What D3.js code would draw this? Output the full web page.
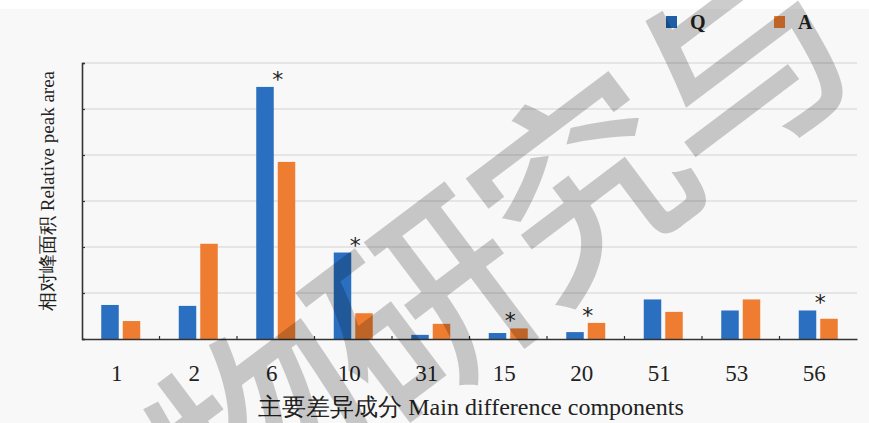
<!DOCTYPE html>
<html>
<head>
<meta charset="utf-8">
<script src="https://cdn.jsdelivr.net/npm/d3@7"></script>
<style>
  html, body { margin: 0; padding: 0; background: #ffffff; overflow: hidden; }
  svg { display: block; }
</style>
</head>
<body>
<svg id="chart" width="869" height="423"></svg>
<script>
// ---- data ----
const categories = ["1", "2", "6", "10", "31", "15", "20", "51", "53", "56"];
const qValues = [0.74, 0.72, 5.48, 1.88, 0.09, 0.13, 0.15, 0.86, 0.62, 0.62];
const aValues = [0.39, 2.07, 3.85, 0.56, 0.33, 0.23, 0.35, 0.59, 0.86, 0.44];
const significant = [false, false, true, true, false, true, true, false, false, true];
const seriesNames = ["Q", "A"];
const yTicks = [0, 1, 2, 3, 4, 5, 6];
const xTitle = "主要差异成分 Main difference components";
const yTitle = "相对峰面积 Relative peak area";
const watermark = "物研究与";

(function () {
// ---- layout ----
const W = 869, H = 423;
const plotLeft = 82, plotRight = 857, plotTop = 63, plotBottom = 339;
const colors = { Q: "#2a6fc0", A: "#ee7d31" };
const legendColors = { Q: "#1f5ea6", A: "#ee7d31" };
const serif = "'Liberation Serif', 'Times New Roman', serif";

const svg = d3.select("#chart");

// background
svg.append("rect").attr("x", 0).attr("y", 0).attr("width", W).attr("height", H).attr("fill", "#ffffff");
svg.append("rect").attr("x", 0).attr("y", 9).attr("width", W).attr("height", H - 9).attr("fill", "#f8f8f8");

const x = d3.scaleBand().domain(categories).range([plotLeft, plotRight]).padding(0);
const x1 = d3.scaleBand().domain(seriesNames).range([-19.5, 19.5]).paddingInner(0.186);
const y = d3.scaleLinear().domain([0, 6]).range([plotBottom, plotTop]);

// gridlines
svg.append("g")
  .selectAll("line")
  .data(yTicks.filter(t => t > 0))
  .join("line")
  .attr("x1", plotLeft).attr("x2", plotRight)
  .attr("y1", d => y(d)).attr("y2", d => y(d))
  .attr("stroke", "#d2d2d2").attr("stroke-width", 1.2);

// y axis
const yAxis = svg.append("g")
  .attr("transform", `translate(${plotLeft},0)`)
  .call(d3.axisLeft(y).tickValues(yTicks).tickSize(-3).tickFormat(""));
yAxis.select(".domain").attr("stroke", "#333").attr("stroke-width", 1.6);
yAxis.selectAll(".tick line").attr("stroke", "#333").attr("stroke-width", 1.2);

// bars
const rows = categories.map((c, i) => ({ cat: c, Q: qValues[i], A: aValues[i], sig: significant[i] }));
const groups = svg.append("g").selectAll("g")
  .data(rows)
  .join("g")
  .attr("transform", d => `translate(${x(d.cat) + x.bandwidth() / 2},0)`);

groups.selectAll("rect")
  .data(d => seriesNames.map(s => ({ s, v: d[s] })))
  .join("rect")
  .attr("x", d => x1(d.s))
  .attr("width", x1.bandwidth())
  .attr("y", d => y(d.v))
  .attr("height", d => y(0) - y(d.v))
  .attr("fill", d => colors[d.s]);

// asterisks
groups.filter(d => d.sig)
  .append("text")
  .attr("x", 2)
  .attr("y", d => y(Math.max(d.Q, d.A)))
  .attr("text-anchor", "middle")
  .attr("font-family", "'DejaVu Sans', sans-serif")
  .attr("font-size", 22)
  .attr("fill", "#222")
  .text("*");

// x axis
const xAxis = svg.append("g")
  .attr("transform", `translate(0,${plotBottom})`)
  .call(d3.axisBottom(x).tickSize(0).tickPadding(26));
xAxis.select(".domain").attr("stroke", "#333").attr("stroke-width", 1.6);
xAxis.selectAll(".tick text")
  .attr("font-family", serif)
  .attr("font-size", 23)
  .attr("fill", "#222")
  .attr("dx", -4);
// category boundary ticks (inside)
svg.append("g")
  .selectAll("line")
  .data(categories.slice(1))
  .join("line")
  .attr("x1", d => x(d))
  .attr("x2", d => x(d))
  .attr("y1", plotBottom).attr("y2", plotBottom - 3)
  .attr("stroke", "#333").attr("stroke-width", 1.2);

// axis titles
svg.append("text")
  .attr("x", 471).attr("y", 415)
  .attr("text-anchor", "middle")
  .attr("font-family", serif)
  .attr("font-size", 24)
  .attr("fill", "#222")
  .text(xTitle);

svg.append("text")
  .attr("transform", `translate(54,191) rotate(-90)`)
  .attr("text-anchor", "middle")
  .attr("font-family", serif)
  .attr("font-size", 19)
  .attr("fill", "#222")
  .text(yTitle);

// legend
const legend = svg.append("g");
const legendX = { Q: 666, A: 774 };
seriesNames.forEach(s => {
  legend.append("rect")
    .attr("x", legendX[s]).attr("y", 16)
    .attr("width", 11).attr("height", 12)
    .attr("fill", legendColors[s]);
  legend.append("text")
    .attr("x", legendX[s] + 24).attr("y", 29)
    .attr("font-family", serif)
    .attr("font-size", 20)
    .attr("font-weight", "bold")
    .attr("fill", "#222")
    .text(s);
});

// watermark
svg.append("text")
  .attr("transform", "translate(492,238) rotate(-37)")
  .attr("text-anchor", "middle")
  .attr("dominant-baseline", "central")
  .attr("font-family", "'Noto Sans CJK SC', sans-serif")
  .attr("font-weight", 500)
  .attr("font-size", 208)
  .attr("letter-spacing", -8)
  .attr("fill", "#000")
  .attr("fill-opacity", 0.2)
  .text(watermark);
})();
</script>
</body>
</html>
